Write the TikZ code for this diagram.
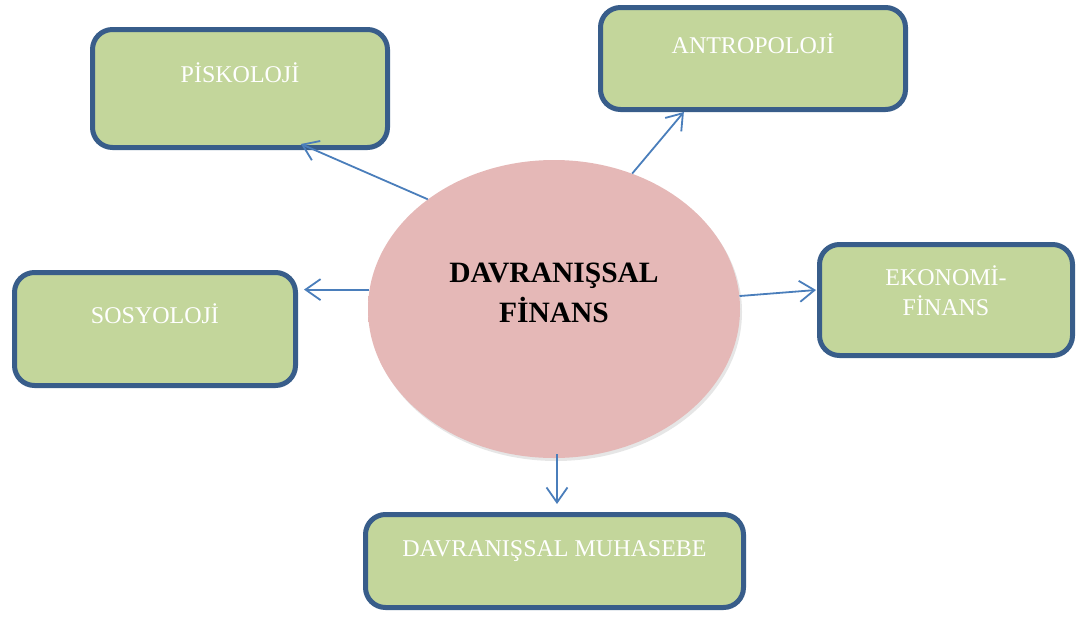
\documentclass[tikz,border=0pt]{standalone}
\usepackage{fontspec}
\setmainfont{Liberation Serif}
\usetikzlibrary{arrows.meta,calc,shapes.geometric,shadows}
\definecolor{boxgreen}{HTML}{C3D69B}
\definecolor{boxblue}{HTML}{385D8A}
\definecolor{arrblue}{HTML}{4A7EBB}
\definecolor{hubpink}{HTML}{E5B8B7}
\pgfdeclareradialshading{hubrim}{\pgfpoint{0bp}{0bp}}{color(0bp)=(hubpink); color(40bp)=(hubpink); color(47bp)=(hubpink!75!white); color(50bp)=(hubpink!45!white)}

\begin{document}
\begin{tikzpicture}[x=1pt,y=-1pt,
    box/.style={draw=boxblue,fill=boxgreen,line width=5pt,rounded corners=20pt,inner sep=0pt},
    lbl/.style={text=white,font=\fontsize{24}{30}\selectfont,anchor=base,inner sep=0pt},
    hub/.style={ellipse,shade,shading=hubrim,minimum width=372pt,minimum height=298pt,inner sep=0pt,
        drop shadow={opacity=0.2,shadow xshift=2pt,shadow yshift=-3pt}},
    arr/.style={draw=arrblue,line width=1.8pt,-{Straight Barb[length=15pt,width=21pt]}}]
\useasboundingbox (0,0) rectangle (1078,616);

% the five fields
\node[box,minimum width=295pt,minimum height=118pt] (psk) at (240,88.5) {};
\node[box,minimum width=305pt,minimum height=102pt] (ant) at (753,58.5) {};
\node[box,minimum width=281pt,minimum height=113pt] (sos) at (155,329) {};
\node[box,minimum width=253pt,minimum height=111pt] (eko) at (946,300) {};
\node[box,minimum width=378pt,minimum height=93pt] (muh) at (554.5,561) {};

\node[lbl] (psktxt) at ($(psk.north)+(0,55)$) {PİSKOLOJİ};
\node[lbl] (anttxt) at ($(ant.north)+(0,48)$) {ANTROPOLOJİ};
\node[lbl] (sostxt) at ($(sos.north)+(0,53)$) {SOSYOLOJİ};
\node[lbl,align=center] (ekotxt) at ($(eko.north)+(0,73)$) {EKONOMİ-\\FİNANS};
\node[lbl] (muhtxt) at ($(muh.north)+(0,44)$) {DAVRANIŞSAL MUHASEBE};

% centre
\node[hub] (df) at (554,309) {};
\node[font=\bfseries\fontsize{29.5}{40}\selectfont,align=center,anchor=base,inner sep=0pt] (dftxt)
    at (554,322) {DAVRANIŞSAL\\FİNANS};

% arrows
\draw[arr] (df.139) -- ($(psk.south west)!0.703!(psk.south east)+(0,-6)$);
\draw[arr] (df.60) -- ($(ant.south west)!0.277!(ant.south east)$);
\draw[arr] (df.174) -- ($(df.174 -| sos.east)+(6,0)$);
\draw[arr] (df.4.6) -- ($(eko.west)+(-1,-10)$);
\draw[arr] ($(df.south)+(3,-4)$) -- ($(muh.north)+(2.5,-8)$);

\end{tikzpicture}
\end{document}
